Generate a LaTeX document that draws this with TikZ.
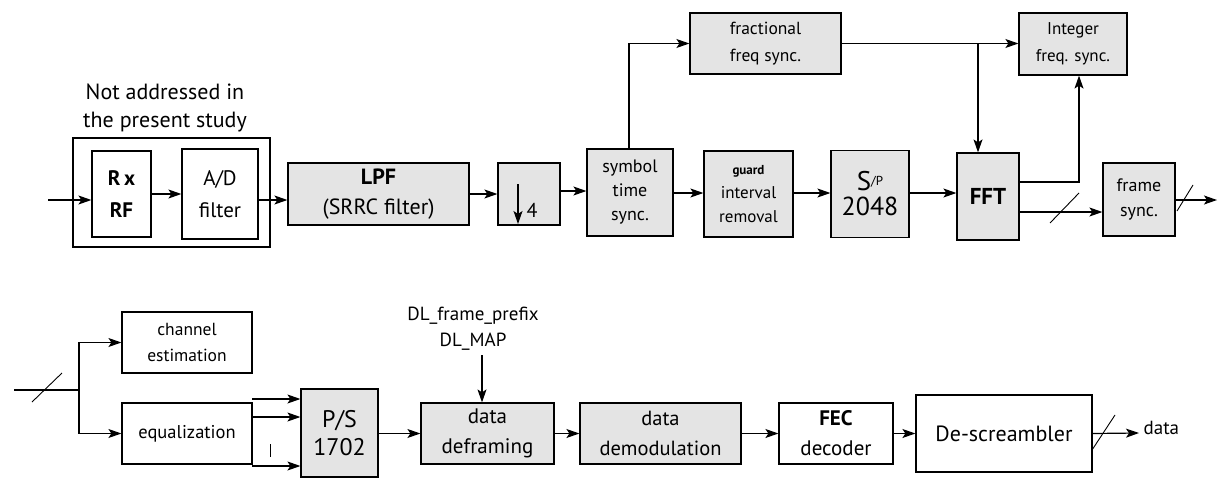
\documentclass[tikz,border=0pt]{standalone}
\usepackage{fontspec}
\setmainfont{PT Sans}
\usetikzlibrary{arrows.meta}
\definecolor{boxgray}{HTML}{E4E4E4}
\begin{document}
\begin{tikzpicture}[x=1pt,y=-1pt,
  font=\fontsize{20}{28}\selectfont,
  line width=1.2pt,
  >={Stealth[length=13pt,width=9pt,inset=3pt]},
  box/.style={draw, line width=1.2pt, align=center, inner sep=0pt},
  gbox/.style={box, fill=boxgray},
  sz/.style 2 args={minimum width=#1, minimum height=#2},
  fs/.style 2 args={font=\fontsize{#1}{#2}\selectfont},
  slash/.style={line width=0.9pt},
  lbl/.style={align=center, inner sep=0pt}]
\useasboundingbox (0,0) rectangle (1223,479);

% ---------- receiver front end (upper chain) ----------
\node[box, sz={197}{109}] (fe) at (171.5,192.5) {};
\node[lbl, fs={22}{28}] (felbl) at (165,108) {Not addressed in\\the present study};
\node[box, sz={59}{86}, font=\fontsize{21}{32}\selectfont\bfseries] (rx) at (121.5,194) {R\,x\\RF};
\node[box, sz={76}{90}, fs={21}{32}] (ad) at (220,194) {A/D\\filter};
\node[gbox, sz={181}{62}, fs={22}{30}] (lpf) at (378.5,194) {\textbf{LPF}\\(SRRC filter)};
\node[gbox, sz={62}{62}] (dec) at (529,194) {};
\node[gbox, sz={86}{87}, fs={18}{24}] (sts) at (630,192.5) {symbol\\time\\sync.};
\node[gbox, sz={89}{86}, fs={17}{24}] (gir) at (748.5,194) {{\fontsize{13}{24}\selectfont\bfseries guard}\\interval\\removal};
\node[gbox, sz={78}{87}, fs={26}{25}] (sp) at (870,194)
  {{\fontsize{27}{25}\selectfont S}\raisebox{5pt}{\fontsize{13}{12}\selectfont/P}\\2048};
\node[gbox, sz={62}{87}, font=\fontsize{23}{24}\selectfont\bfseries] (fft) at (988,196.5) {FFT};
\node[gbox, sz={72}{73}, fs={18}{25}] (frs) at (1139,199.5) {frame\\sync.};
\node[gbox, sz={151}{61}, fs={17.5}{27}] (ffs) at (765.5,43.5) {fractional\\freq sync.};
\node[gbox, sz={108}{62}, fs={17}{27}] (ifs) at (1073,44) {Integer\\freq. sync.};

% decimation symbol inside the down-sampling block
\coordinate (dtop) at (518,184);
\coordinate (dbot) at (518,224);
\draw[->] (dtop) -- (dbot);
\node[lbl, fs={20}{20}] (four) at (532,210) {4};

% upper chain connectors
\coordinate (in1) at (48,200);
\draw[->] (in1) -- (rx.west |- in1);
\draw[->] (rx.east) -- (ad.west |- rx.east);
\draw[->] (ad.east |- in1) -- (lpf.west |- in1);
\draw[->] (lpf.east) -- (dec.west);
\coordinate (r1) at (560,191);
\draw[->] (dec.east |- r1) -- (sts.west |- r1);
\coordinate (r2) at (700,193);
\draw[->] (sts.east |- r2) -- (gir.west |- r2);
\draw[->] (gir.east |- r2) -- (sp.west |- r2);
\draw[->] (sp.east |- r2) -- (fft.west |- r2);
\coordinate (up) at (629,43.5);
\draw[->] (sts.north -| up) -- (up) -- (ffs.west);
\draw[->] (ffs.east) -- (ifs.west |- ffs.east);
\coordinate (br) at (978,43.5);
\draw[->] (br) -- (fft.north -| br);
\coordinate (f1) at (1019,182);
\coordinate (f1c) at (1079,182);
\draw[->] (f1) -- (f1c) -- (ifs.south -| f1c);
\coordinate (f2) at (1019,212);
\draw[->] (f2) -- (frs.west |- f2);
\draw[slash] (1050,223) -- (1079,193);
\coordinate (out1) at (1217,200);
\draw[->] (frs.east |- out1) -- (out1);
\draw[slash] (1177,211) -- (1193,185);

% ---------- data recovery (lower chain) ----------
\node[box, sz={130}{61}, fs={17.5}{26}] (che) at (187,342.5) {channel\\estimation};
\node[box, sz={130}{61}, fs={18.5}{26}] (equ) at (187,433.5) {equalization};
\node[gbox, sz={77}{88}, fs={24}{28}] (ps) at (339.5,433) {P/S\\1702};
\node[gbox, sz={133}{61}, fs={21}{30}] (dfr) at (487.5,433.5) {data\\deframing};
\node[gbox, sz={161}{61}, fs={20.5}{30}] (dem) at (660.5,433.5) {data\\demodulation};
\node[box, sz={114}{61}, fs={21}{30}] (fec) at (836,433.5) {\textbf{FEC}\\decoder};
\node[box, sz={176}{77}, fs={22}{30}] (des) at (1004,433.5) {De-screambler};
\node[lbl, fs={19}{26}] (dl) at (473,329) {DL\_frame\_prefix\\DL\_MAP};
\node[lbl, fs={19}{20}, anchor=west] (data) at (1143,428) {data};

% lower chain connectors
\coordinate (in2) at (14,390);
\coordinate (sp2) at (79,390);
\draw (in2) -- (sp2);
\draw[slash] (32,402) -- (62,373);
\draw[->] (sp2) |- (che.west);
\draw[->] (sp2) |- (equ.west);
\coordinate (e1) at (252,399);
\coordinate (e2) at (252,417);
\coordinate (e3) at (252,466);
\draw[->] (e1) -- (ps.west |- e1);
\draw[->] (e2) -- (ps.west |- e2);
\draw[->] (e3) -- (ps.west |- e3);
\draw[line width=0.9pt] (270,444) -- (270,457);
\draw[->] (ps.east |- dfr.west) -- (dfr.west);
\draw[->] (dfr.east) -- (dem.west);
\draw[->] (dem.east) -- (fec.west);
\draw[->] (fec.east) -- (des.west);
\coordinate (dlc) at (482,355);
\draw[->] (dlc) -- (dfr.north -| dlc);
\coordinate (dout) at (1139,433);
\draw[->] (des.east) -- (dout);
\draw[slash] (1092,450) -- (1115,415);
\end{tikzpicture}
\end{document}
